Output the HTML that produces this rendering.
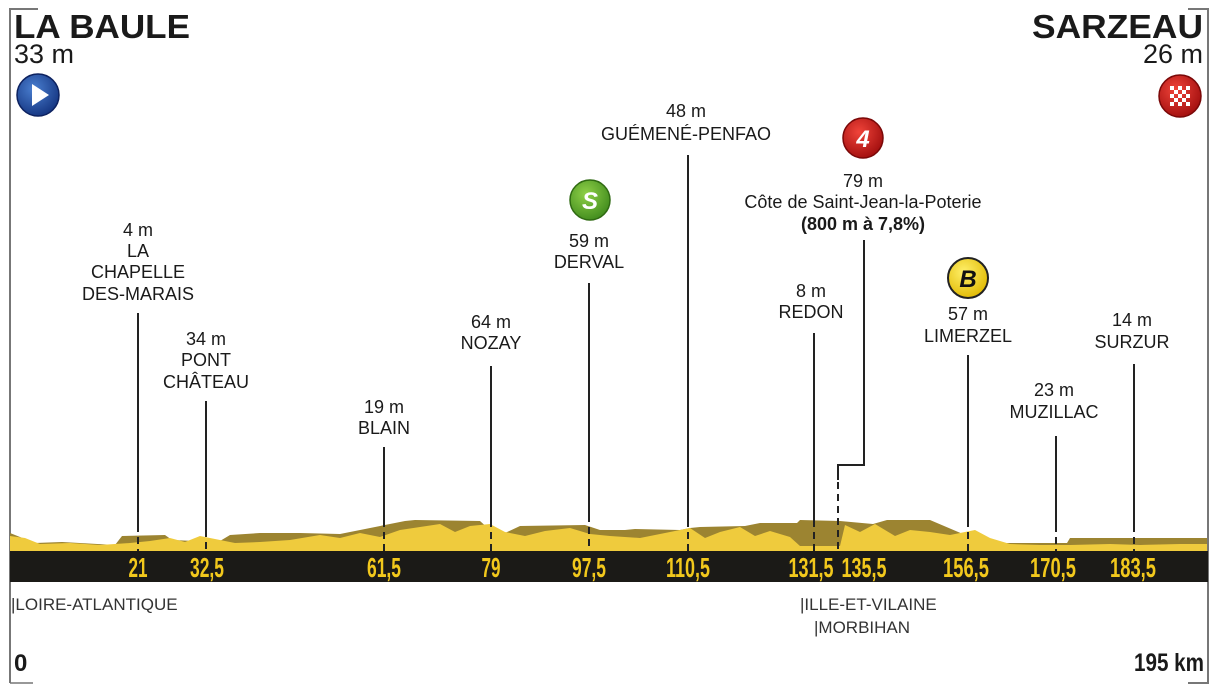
<!DOCTYPE html>
<html><head><meta charset="utf-8"><style>
html,body{margin:0;padding:0;background:#fff;}
svg{display:block;}
text{font-family:"Liberation Sans",sans-serif;fill:#1a1a1a;}
.l{font-size:18px;text-anchor:middle;}
.n{font-family:"Liberation Sans",sans-serif;font-weight:bold;font-size:28px;fill:#f2c81c;text-anchor:middle;}
.d{font-family:"Liberation Sans",sans-serif;font-size:17px;fill:#333;}
</style></head><body>
<svg width="1222" height="689" viewBox="0 0 1222 689" xmlns="http://www.w3.org/2000/svg">
<defs>
<radialGradient id="gb" cx="40%" cy="35%" r="70%"><stop offset="0" stop-color="#4a7fd0"/><stop offset="1" stop-color="#13337f"/></radialGradient>
<radialGradient id="gr" cx="40%" cy="35%" r="70%"><stop offset="0" stop-color="#f0443a"/><stop offset="1" stop-color="#a00d0d"/></radialGradient>
<radialGradient id="gg" cx="40%" cy="35%" r="70%"><stop offset="0" stop-color="#8fd048"/><stop offset="1" stop-color="#3f8a1c"/></radialGradient>
<radialGradient id="gy" cx="40%" cy="35%" r="70%"><stop offset="0" stop-color="#fff06a"/><stop offset="1" stop-color="#e0b800"/></radialGradient>
</defs>
<path d="M38 9 H10 V683" stroke="#777" stroke-width="2" fill="none"/>
<path d="M10 683 H33" stroke="#777" stroke-width="1.5" fill="none"/>
<path d="M1188 9 H1208 V683 H1188" stroke="#777" stroke-width="2" fill="none"/>

<polygon fill="#9c8431" points="10,551 10,533 35,543 62,542 115,545 122,536 165,535 172,540 195,541 215,544 230,535 260,533 300,533 340,534 405,521 415,520 480,521 490,530 505,533 520,526 585,525 600,530 625,530 635,529 680,530 690,528 700,527 745,526 760,523 797,523 800,520 840,521 873,524 887,520 930,520 977,540 990,543 1067,543 1070,538 1107,538 1207,538 1207,551"/>
<polygon fill="#efcb3d" points="10,551 10,536 25,538 40,544 70,543 100,545 130,543 150,541 170,538 185,542 200,536 215,539 235,543 260,542 290,540 320,535 340,538 360,533 380,537 400,530 420,527 440,524 455,532 470,526 490,524 505,532 525,536 545,531 570,528 590,534 610,536 640,538 660,534 690,528 705,538 720,532 740,527 755,536 770,531 790,537 800,546 840,546 845,525 860,532 875,524 895,536 910,530 930,532 950,535 975,530 990,538 1010,544 1040,545 1070,545 1110,544 1140,545 1180,544 1207,544 1207,551"/>
<rect x="10" y="551" width="1198" height="31" fill="#1b1a17"/>

<text class="n" x="138" y="577" textLength="19" lengthAdjust="spacingAndGlyphs">21</text>
<text class="n" x="207" y="577" textLength="34" lengthAdjust="spacingAndGlyphs">32,5</text>
<text class="n" x="384" y="577" textLength="34" lengthAdjust="spacingAndGlyphs">61,5</text>
<text class="n" x="491" y="577" textLength="19" lengthAdjust="spacingAndGlyphs">79</text>
<text class="n" x="589" y="577" textLength="34" lengthAdjust="spacingAndGlyphs">97,5</text>
<text class="n" x="688" y="577" textLength="44" lengthAdjust="spacingAndGlyphs">110,5</text>
<text class="n" x="811" y="577" textLength="45" lengthAdjust="spacingAndGlyphs">131,5</text>
<text class="n" x="864" y="577" textLength="45" lengthAdjust="spacingAndGlyphs">135,5</text>
<text class="n" x="966" y="577" textLength="46" lengthAdjust="spacingAndGlyphs">156,5</text>
<text class="n" x="1053" y="577" textLength="46" lengthAdjust="spacingAndGlyphs">170,5</text>
<text class="n" x="1133" y="577" textLength="46" lengthAdjust="spacingAndGlyphs">183,5</text>

<g stroke="#222" stroke-width="2" fill="none">
<path d="M138 313 V525"/><path d="M206 401 V530"/><path d="M384 447 V520"/><path d="M491 366 V520"/>
<path d="M589 283 V515"/><path d="M688 155 V520"/><path d="M814 333 V520"/><path d="M864 240 V465 H838 V480"/>
<path d="M968 355 V520"/><path d="M1056 436 V525"/><path d="M1134 364 V525"/>
</g>
<g stroke="#222" stroke-width="2" stroke-dasharray="7,5" fill="none">
<path d="M138 525 V551"/><path d="M206 530 V551"/><path d="M384 520 V551"/><path d="M491 520 V551"/>
<path d="M589 515 V551"/><path d="M688 520 V551"/><path d="M814 520 V551"/><path d="M838 482 V551"/>
<path d="M968 520 V551"/><path d="M1056 525 V551"/><path d="M1134 525 V551"/>
</g>

<text x="14" y="38" textLength="176" lengthAdjust="spacingAndGlyphs" style="font-size:33px;font-weight:bold">LA BAULE</text>
<text x="14" y="63" style="font-size:27px">33 m</text>
<circle cx="38" cy="95" r="21" fill="url(#gb)" stroke="#0d2260" stroke-width="1.5"/>
<polygon points="32,84 32,106 49,95" fill="#fff"/>
<text x="1032" y="38" textLength="171" lengthAdjust="spacingAndGlyphs" style="font-size:33px;font-weight:bold">SARZEAU</text>
<text x="1203" y="63" text-anchor="end" style="font-size:27px">26 m</text>
<circle cx="1180" cy="96" r="21" fill="url(#gr)" stroke="#7a0808" stroke-width="1.5"/>
<g fill="#fff">
<rect x="1170" y="86" width="4" height="4"/><rect x="1178" y="86" width="4" height="4"/><rect x="1186" y="86" width="4" height="4"/>
<rect x="1174" y="90" width="4" height="4"/><rect x="1182" y="90" width="4" height="4"/>
<rect x="1170" y="94" width="4" height="4"/><rect x="1178" y="94" width="4" height="4"/><rect x="1186" y="94" width="4" height="4"/>
<rect x="1174" y="98" width="4" height="4"/><rect x="1182" y="98" width="4" height="4"/>
<rect x="1170" y="102" width="4" height="4"/><rect x="1178" y="102" width="4" height="4"/><rect x="1186" y="102" width="4" height="4"/>
</g>

<circle cx="590" cy="200" r="20" fill="url(#gg)" stroke="#2f6a12" stroke-width="1.5"/>
<text x="590" y="209" text-anchor="middle" style="font-size:24px;font-weight:bold;font-style:italic;fill:#fff">S</text>
<circle cx="863" cy="138" r="20" fill="url(#gr)" stroke="#7a0808" stroke-width="1.5"/>
<text x="863" y="147" text-anchor="middle" style="font-size:24px;font-weight:bold;font-style:italic;fill:#fff">4</text>
<circle cx="968" cy="278" r="20" fill="url(#gy)" stroke="#222" stroke-width="2"/>
<text x="968" y="287" text-anchor="middle" style="font-size:24px;font-weight:bold;font-style:italic;fill:#111">B</text>

<text class="l" x="138" y="236">4 m</text><text class="l" x="138" y="257">LA</text><text class="l" x="138" y="278">CHAPELLE</text><text class="l" x="138" y="300">DES-MARAIS</text>
<text class="l" x="206" y="345">34 m</text><text class="l" x="206" y="366">PONT</text><text class="l" x="206" y="388">CHÂTEAU</text>
<text class="l" x="384" y="413">19 m</text><text class="l" x="384" y="434">BLAIN</text>
<text class="l" x="491" y="328">64 m</text><text class="l" x="491" y="349">NOZAY</text>
<text class="l" x="589" y="247">59 m</text><text class="l" x="589" y="268">DERVAL</text>
<text class="l" x="686" y="117">48 m</text><text class="l" x="686" y="140">GUÉMENÉ-PENFAO</text>
<text class="l" x="863" y="187">79 m</text><text class="l" x="863" y="208">Côte de Saint-Jean-la-Poterie</text>
<text class="l" x="863" y="230" style="font-weight:bold">(800 m à 7,8%)</text>
<text class="l" x="811" y="297">8 m</text><text class="l" x="811" y="318">REDON</text>
<text class="l" x="968" y="320">57 m</text><text class="l" x="968" y="342">LIMERZEL</text>
<text class="l" x="1054" y="396">23 m</text><text class="l" x="1054" y="418">MUZILLAC</text>
<text class="l" x="1132" y="326">14 m</text><text class="l" x="1132" y="348">SURZUR</text>

<text class="d" x="11" y="610">|LOIRE-ATLANTIQUE</text>
<text class="d" x="800" y="610">|ILLE-ET-VILAINE</text>
<text class="d" x="814" y="633">|MORBIHAN</text>
<text x="14" y="671" style="font-size:24px;font-weight:bold">0</text>
<text x="1204" y="671" text-anchor="end" textLength="70" lengthAdjust="spacingAndGlyphs" style="font-size:25px;font-weight:bold">195 km</text>
</svg>
</body></html>
